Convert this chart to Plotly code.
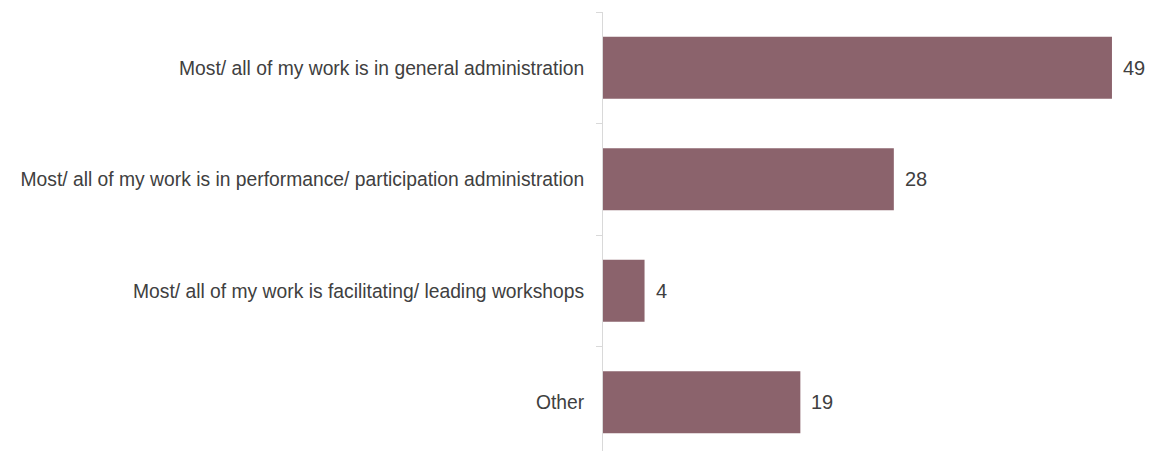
import plotly.graph_objects as go

categories = [
    "Most/ all of my work is in general administration",
    "Most/ all of my work is in performance/ participation administration",
    "Most/ all of my work is facilitating/ leading workshops",
    "Other",
]
values = [49, 28, 4, 19]

bar_color = "#8b636c"
text_color = "#404040"
font_family = "Liberation Sans, Arial, sans-serif"

fig = go.Figure()
fig.add_trace(go.Bar(
    x=values,
    y=categories,
    orientation="h",
    marker=dict(color=bar_color, line=dict(width=0)),
    width=0.556,
    hoverinfo="skip",
))

# value labels just past the end of each bar
for cat, val in zip(categories, values):
    fig.add_annotation(
        x=val, y=cat, text=str(val),
        xref="x", yref="y",
        xanchor="left", yanchor="middle",
        xshift=9, showarrow=False,
        font=dict(size=20, color=text_color, family=font_family),
    )

fig.update_layout(
    width=1154, height=451,
    margin=dict(l=603, r=14, t=12, b=0),
    paper_bgcolor="white",
    plot_bgcolor="white",
    showlegend=False,
    font=dict(family=font_family, color=text_color, size=19.3),
    xaxis=dict(
        range=[0, 51.7],
        visible=False,
        showgrid=False,
        zeroline=False,
    ),
    yaxis=dict(
        type="category",
        categoryorder="array",
        categoryarray=categories,
        range=[3.437, -0.5],
        showline=True,
        linecolor="#d9d9d9",
        linewidth=1,
        ticks="outside",
        tickson="boundaries",
        ticklen=6,
        tickcolor="#d9d9d9",
        ticklabelstandoff=14,
        tickfont=dict(size=19.3, color=text_color, family=font_family),
        showgrid=False,
        zeroline=False,
    ),
)

fig.write_html("out.html")
